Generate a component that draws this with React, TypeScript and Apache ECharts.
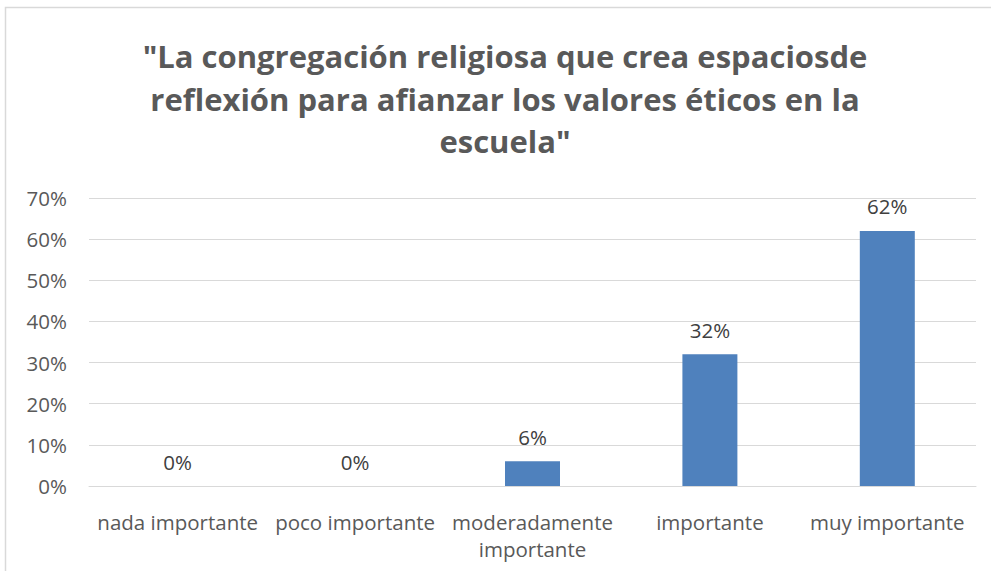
import React, { useEffect, useRef } from "react";
import * as echarts from "echarts";

const titleText = '"La congregación religiosa que crea espaciosde\nreflexión para afianzar los valores éticos en la\nescuela"';
const categories = ["nada importante", "poco importante", "moderadamente\nimportante", "importante", "muy importante"];
const values = [0, 0, 6, 32, 62];
const yTicks = { min: 0, max: 70, interval: 10 };

const FONT = "'Open Sans', sans-serif";

export default function App() {
  const ref = useRef<HTMLDivElement>(null);
  useEffect(() => {
    document.body.style.margin = "0";
    const chart = echarts.init(ref.current!, null, { renderer: "svg" });
    chart.setOption({
      animation: false,
      backgroundColor: "#ffffff",
      graphic: [
        {
          type: "rect",
          shape: { x: 5.5, y: 7.5, width: 1000, height: 580 },
          style: { fill: "none", stroke: "#D9D9D9", lineWidth: 1.5 },
          silent: true,
        },
        {
          type: "text",
          x: 505,
          y: 35,
          style: {
            text: titleText,
            align: "center",
            verticalAlign: "top",
            fontFamily: FONT,
            fontSize: 31,
            fontWeight: "bold",
            fill: "#595959",
            lineHeight: 42.5,
          },
        },
      ],
      grid: { left: 89, right: 15, top: 198, bottom: 85 },
      xAxis: {
        type: "category",
        data: categories,
        axisLine: { show: true, lineStyle: { color: "#D9D9D9", width: 1 } },
        axisTick: { show: false },
        axisLabel: {
          interval: 0,
          margin: 22,
          fontFamily: FONT,
          fontSize: 20.5,
          color: "#595959",
          lineHeight: 27,
        },
      },
      yAxis: {
        type: "value",
        min: yTicks.min,
        max: yTicks.max,
        interval: yTicks.interval,
        axisLine: { show: false },
        axisTick: { show: false },
        splitLine: { lineStyle: { color: "#D9D9D9", width: 1 } },
        axisLabel: {
          formatter: "{value}%",
          margin: 22,
          padding: [5, 0, 0, 0],
          fontFamily: FONT,
          fontSize: 20.5,
          color: "#595959",
        },
      },
      series: [
        {
          type: "bar",
          data: values,
          barWidth: "31%",
          itemStyle: { color: "#4F81BD" },
          label: {
            show: true,
            position: "top",
            distance: 14,
            formatter: "{c}%",
            fontFamily: FONT,
            fontSize: 20.5,
            color: "#404040",
          },
        },
      ],
    });
    return () => chart.dispose();
  }, []);
  return <div ref={ref} style={{ width: 991, height: 571 }} />;
}
